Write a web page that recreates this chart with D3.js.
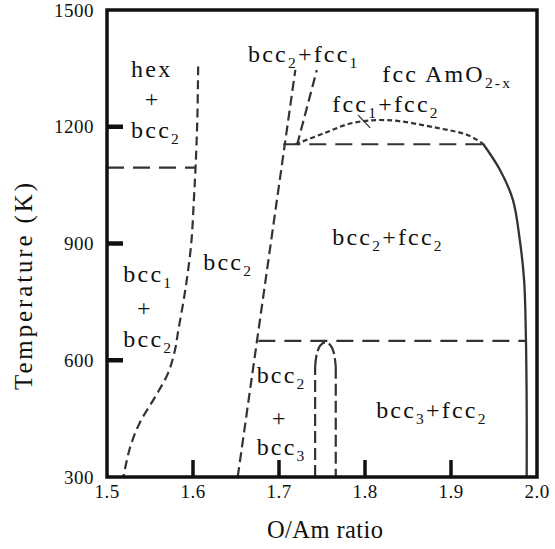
<!DOCTYPE html>
<html><head><meta charset="utf-8">
<script src="https://cdn.jsdelivr.net/npm/d3@7"></script>
<style>
html,body{margin:0;padding:0;background:#fff;}
svg{display:block;}
text{font-family:"Liberation Serif","Times New Roman",serif;fill:#111;}
</style></head>
<body>
<svg id="chart" width="555" height="549"></svg>
<script>
// ---- data ----
const xTicks = [1.5, 1.6, 1.7, 1.8, 1.9, 2.0];
const yTicks = [300, 600, 900, 1200, 1500];
const xTickLabels = ["1.5", "1.6", "1.7", "1.8", "1.9", "2.0"];
const yTickLabels = ["300", "600", "900", "1200", "1500"];
const xInnerTicks = [1.6, 1.7, 1.8, 1.9];
const yInnerTicks = [600, 900, 1200];

// phase boundaries [O/Am, T(K)]
const bcc1Boundary = [[1.606,1355],[1.605,1217],[1.603,1097],[1.601,1012],[1.598,901],[1.591,780],[1.583,678],[1.579,626],[1.571,567],[1.556,506],[1.538,439],[1.527,377],[1.519,300]];
const hexLine = [[1.5,1095],[1.603,1095]];
const bcc2Boundary = [[1.652,300],[1.719,1346]];
const fcc1Boundary = [[1.721,1153],[1.744,1346]];
const eutectoid1155 = [[1.705,1155],[1.937,1155]];
const fccDome = [[1.719,1155],[1.752,1183],[1.786,1210],[1.826,1217],[1.884,1197],[1.919,1179],[1.937,1157]];
const leader = [[1.792,1230],[1.806,1197]];
const fccSolvus = [[1.937,1157],[1.957,1089],[1.972,1012],[1.980,909],[1.985,806],[1.987,670],[1.988,480],[1.988,300]];
const eutectoid650 = [[1.676,650],[1.988,650]];
const bcc3DomeLeft = [[1.742,300],[1.742,583]];
const bcc3DomeTop = [[1.742,583],[1.744,617],[1.748,638],[1.754,646],[1.760,638],[1.764,617],[1.766,583]];
const bcc3DomeRight = [[1.766,583],[1.766,300]];

const labels = [
  {parts:[["hex",0]], x:1.528, t:1328},
  {parts:[["+",0]], x:1.544, t:1251},
  {parts:[["bcc",0],["2",1]], x:1.528, t:1171},
  {parts:[["bcc",0],["1",1]], x:1.519, t:801},
  {parts:[["+",0]], x:1.535, t:714},
  {parts:[["bcc",0],["2",1]], x:1.519, t:634},
  {parts:[["bcc",0],["2",1]], x:1.612, t:832},
  {parts:[["bcc",0],["2",1],["+fcc",0],["1",1]], x:1.664, t:1366},
  {parts:[["fcc AmO",0],["2-x",1]], x:1.820, t:1315},
  {parts:[["fcc",0],["1",1],["+fcc",0],["2",1]], x:1.762, t:1238},
  {parts:[["bcc",0],["2",1],["+fcc",0],["2",1]], x:1.762, t:896},
  {parts:[["bcc",0],["2",1]], x:1.674, t:541},
  {parts:[["+",0]], x:1.692, t:431},
  {parts:[["bcc",0],["3",1]], x:1.674, t:357},
  {parts:[["bcc",0],["3",1],["+fcc",0],["2",1]], x:1.813, t:452}
];

// ---- drawing ----
const svg = d3.select("#chart");
const x = d3.scaleLinear().domain([1.5, 2.0]).range([107, 537]);
const y = d3.scaleLinear().domain([300, 1500]).range([477, 10]);
const line = d3.line().x(d => x(d[0])).y(d => y(d[1]));
const curve = d3.line().x(d => x(d[0])).y(d => y(d[1])).curve(d3.curveCatmullRom.alpha(0.5));

const lineColor = "#333";
function path(data, gen, dash, w) {
  svg.append("path").attr("d", gen(data)).attr("fill", "none")
    .attr("stroke", lineColor).attr("stroke-width", w || 2.2)
    .attr("stroke-dasharray", dash || null);
}
path(bcc1Boundary, curve, "9,5");
path(hexLine, line, "17,9");
path(bcc2Boundary, line, "10,5");
path(fcc1Boundary, line, "10,5");
path(eutectoid1155, line, "17,9");
path(fccDome, curve, "5,3");
path(leader, line, null, 1.3);
path(fccSolvus, curve, null, 2.3);
path(eutectoid650, line, "17,9");
path(bcc3DomeLeft, line, "12,5");
path(bcc3DomeTop, curve, "12,4");
path(bcc3DomeRight, line, "12,5");

// frame
svg.append("rect")
  .attr("x", x(1.5)).attr("y", y(1500))
  .attr("width", x(2.0) - x(1.5)).attr("height", y(300) - y(1500))
  .attr("fill", "none").attr("stroke", "#111").attr("stroke-width", 3.5);

// inner ticks
svg.selectAll(".xt").data(xInnerTicks).join("line")
  .attr("x1", d => x(d)).attr("x2", d => x(d))
  .attr("y1", y(300)).attr("y2", y(300) - 17)
  .attr("stroke", "#111").attr("stroke-width", 3.5);
svg.selectAll(".yt").data(yInnerTicks).join("line")
  .attr("x1", x(1.5)).attr("x2", x(1.5) + 16)
  .attr("y1", d => y(d)).attr("y2", d => y(d))
  .attr("stroke", "#111").attr("stroke-width", 4.5);

// tick labels
svg.selectAll(".xl").data(xTicks).join("text")
  .attr("x", d => x(d)).attr("y", y(300) + 21)
  .attr("text-anchor", "middle").attr("font-size", 19).attr("letter-spacing", 0.5)
  .text((d, i) => xTickLabels[i]);
svg.selectAll(".yl").data(yTicks).join("text")
  .attr("x", x(1.5) - 13).attr("y", d => y(d)).attr("dy", "0.35em")
  .attr("text-anchor", "end").attr("font-size", 19).attr("letter-spacing", 0.5)
  .text((d, i) => yTickLabels[i]);

// axis titles
svg.append("text").attr("x", (x(1.5) + x(2.0)) / 2 + 3).attr("y", 538)
  .attr("text-anchor", "middle").attr("font-size", 24.5)
  .attr("textLength", 116).attr("lengthAdjust", "spacing")
  .text("O/Am ratio");
svg.append("text")
  .attr("transform", `translate(32,${(183 + 390) / 2}) rotate(-90)`)
  .attr("text-anchor", "middle").attr("font-size", 25)
  .attr("textLength", 207).attr("lengthAdjust", "spacing")
  .text("Temperature (K)");

// phase labels
labels.forEach(l => {
  const t = svg.append("text").attr("x", x(l.x)).attr("y", y(l.t))
    .attr("font-size", 24).attr("letter-spacing", 2.2);
  let shifted = false;
  l.parts.forEach(p => {
    const ts = t.append("tspan").text(p[0]);
    if (p[1] && !shifted) { ts.attr("dy", 6).attr("font-size", 15.5); shifted = true; }
    else if (p[1]) { ts.attr("font-size", 15.5); }
    else if (!p[1] && shifted) { ts.attr("dy", -6); shifted = false; }
  });
});
</script>
</body></html>
